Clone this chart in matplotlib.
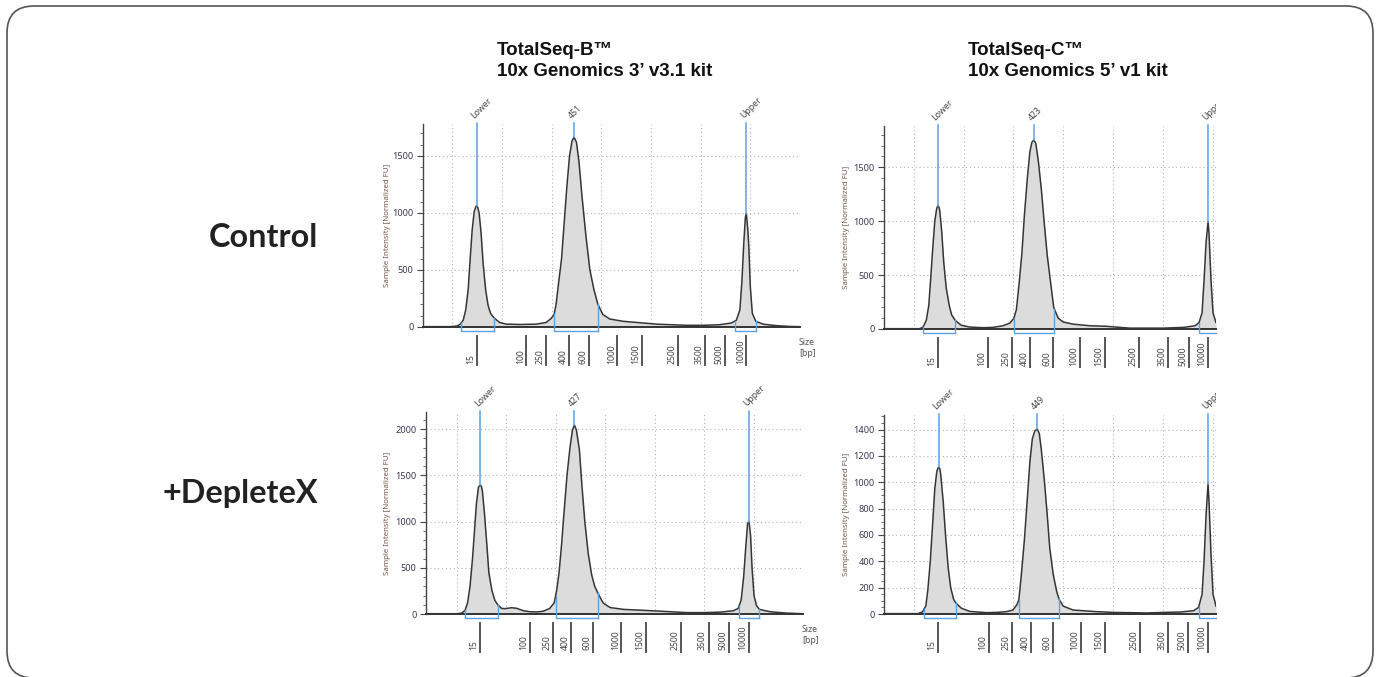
import numpy as np
import matplotlib
matplotlib.use("Agg")
import matplotlib.pyplot as plt
from matplotlib.patches import FancyBboxPatch
from matplotlib.transforms import (Bbox, TransformedBbox, IdentityTransform,
                                   blended_transform_factory, ScaledTranslation)
from matplotlib.ticker import MultipleLocator

# ---------------- data ----------------
ladder_bp = [15, 100, 250, 400, 600, 1000, 1500, 2500, 3500, 5000, 10000]

col_titles = ["TotalSeq-B\u2122\n10x Genomics 3\u2019 v3.1 kit",
              "TotalSeq-C\u2122\n10x Genomics 5\u2019 v1 kit"]
row_labels = ["Control", "+DepleteX"]

# --- Control, TotalSeq-B ---
tl_ladder_pos = [1.49, 2.49, 2.89, 3.35, 3.75, 4.32, 4.81, 5.54, 6.08, 6.48, 6.92]
tl_pos = [0.41, 0.95, 1.09, 1.16, 1.22, 1.27, 1.32, 1.36, 1.40, 1.44,
          1.47, 1.49, 1.51, 1.54, 1.58, 1.62, 1.67, 1.72, 1.77, 1.84, 1.95, 2.09,
          2.36, 2.69, 2.89, 2.99, 3.05, 3.09, 3.13, 3.20, 3.25, 3.31,
          3.36, 3.41, 3.45, 3.50, 3.55, 3.61, 3.69, 3.77, 3.85, 3.93,
          4.03, 4.17, 4.44, 4.71, 5.11, 5.71, 6.05, 6.38, 6.62, 6.72,
          6.79, 6.83, 6.87, 6.90, 6.92, 6.95, 6.97, 7.00, 7.04, 7.11,
          7.26, 7.52, 7.79, 8.00]
tl_fu = [3, 3, 8, 25, 60, 150, 330, 600, 850, 1010,
         1050, 1065, 1050, 1000, 820, 560, 330, 190, 120, 80, 40, 25,
         22, 25, 40, 75, 110, 200, 350, 600, 900, 1250,
         1500, 1630, 1665, 1620, 1450, 1150, 800, 500, 330, 200,
         110, 70, 50, 40, 25, 15, 15, 20, 35, 60,
         150, 400, 750, 960, 995, 850, 700, 350, 120, 50,
         25, 12, 5, 3]
tl_marker_labels = ["Lower", "451", "Upper"]
tl_marker_pos = [1.49, 3.45, 6.92]
tl_regions = [(1.17, 1.84), (3.05, 3.93), (6.70, 7.11)]

# --- Control, TotalSeq-C ---
tr_ladder_pos = [1.48, 2.49, 2.98, 3.33, 3.80, 4.34, 4.83, 5.53, 6.10, 6.52, 6.91]
tr_pos = [0.40, 1.11, 1.18, 1.25, 1.30, 1.34, 1.38, 1.42, 1.46, 1.48,
          1.50, 1.52, 1.56, 1.60, 1.65, 1.71, 1.76, 1.83, 1.95, 2.12, 2.39,
          2.59, 2.79, 2.93, 3.01, 3.06, 3.11, 3.17, 3.22, 3.28, 3.33,
          3.37, 3.41, 3.45, 3.50, 3.56, 3.62, 3.68, 3.75, 3.81, 3.90,
          4.00, 4.20, 4.54, 4.87, 5.14, 5.34, 6.01, 6.42, 6.65, 6.73,
          6.79, 6.83, 6.87, 6.91, 6.93, 6.97, 7.01, 7.07]
tr_fu = [3, 3, 15, 80, 220, 480, 750, 1000, 1120, 1142,
         1135, 1100, 900, 620, 380, 220, 130, 80, 35, 18, 12,
         15, 30, 55, 100, 180, 400, 700, 1050, 1400, 1640,
         1730, 1753, 1720, 1560, 1300, 980, 680, 420, 200, 100,
         65, 45, 30, 25, 15, 8, 8, 15, 30, 60,
         150, 450, 800, 995, 880, 450, 150, 60]
tr_marker_labels = ["Lower", "423", "Upper"]
tr_marker_pos = [1.48, 3.41, 6.91]
tr_regions = [(1.18, 1.83), (3.01, 3.82), (6.72, 7.30)]

# --- +DepleteX, TotalSeq-B ---
bl_ladder_pos = [1.47, 2.48, 2.95, 3.32, 3.75, 4.33, 4.82, 5.54, 6.09, 6.50, 6.91]
bl_pos = [0.38, 1.00, 1.10, 1.17, 1.22, 1.27, 1.32, 1.36, 1.40, 1.44,
          1.46, 1.48, 1.50, 1.52, 1.56, 1.61, 1.65, 1.71, 1.77, 1.83, 1.91, 1.98,
          2.11, 2.21, 2.35, 2.48, 2.62, 2.75, 2.88, 2.97, 3.02, 3.07,
          3.12, 3.17, 3.23, 3.29, 3.34, 3.38, 3.42, 3.48, 3.53, 3.59,
          3.66, 3.73, 3.79, 3.86, 3.96, 4.10, 4.37, 4.77, 5.31, 5.64,
          5.98, 6.32, 6.59, 6.69, 6.75, 6.80, 6.84, 6.88, 6.91, 6.94,
          6.97, 7.01, 7.06, 7.12, 7.33, 7.66, 8.00]
bl_fu = [3, 3, 10, 40, 120, 300, 600, 900, 1200, 1370,
         1390, 1395, 1380, 1330, 1100, 750, 450, 260, 150, 100, 60, 58,
         68, 62, 35, 25, 22, 30, 60, 120, 250, 450,
         750, 1100, 1500, 1800, 1990, 2045, 1990, 1780, 1400, 1000,
         650, 420, 300, 220, 120, 70, 50, 40, 25, 15,
         15, 20, 35, 60, 150, 400, 700, 980, 1000, 850,
         500, 200, 90, 50, 25, 10, 3]
bl_marker_labels = ["Lower", "427", "Upper"]
bl_marker_pos = [1.48, 3.38, 6.91]
bl_regions = [(1.17, 1.83), (3.00, 3.85), (6.71, 7.12)]

# --- +DepleteX, TotalSeq-C ---
br_ladder_pos = [1.48, 2.50, 2.97, 3.35, 3.79, 4.35, 4.83, 5.54, 6.10, 6.50, 6.91]
br_pos = [0.40, 1.08, 1.17, 1.24, 1.28, 1.33, 1.38, 1.42, 1.46, 1.48, 1.50,
          1.52, 1.54, 1.59, 1.64, 1.69, 1.74, 1.80, 1.84, 1.95, 2.12, 2.46,
          2.66, 2.86, 2.99, 3.07, 3.11, 3.16, 3.22, 3.28, 3.33, 3.38,
          3.43, 3.48, 3.52, 3.56, 3.62, 3.68, 3.73, 3.80, 3.87, 3.92,
          4.00, 4.20, 4.67, 5.01, 5.68, 6.01, 6.35, 6.62, 6.72, 6.79,
          6.83, 6.87, 6.91, 6.93, 6.97, 7.01, 7.07]
br_fu = [3, 3, 15, 60, 180, 400, 700, 950, 1080, 1105, 1115,
         1105, 1060, 850, 580, 350, 200, 110, 85, 45, 20, 10,
         12, 18, 30, 70, 110, 300, 560, 880, 1150, 1330,
         1390, 1405, 1370, 1250, 1020, 750, 500, 300, 170, 110,
         60, 30, 18, 12, 8, 12, 15, 25, 50, 150,
         400, 750, 990, 850, 450, 150, 60]
br_marker_labels = ["Lower", "449", "Upper"]
br_marker_pos = [1.50, 3.48, 6.91]
br_regions = [(1.20, 1.84), (3.11, 3.91), (6.72, 7.30)]

# ---------------- styling / layout ----------------
W, H = 1381, 677
DPI = 100
SMALL = ["Noto Sans", "DejaVu Sans"]
BLUE = "#5aa2e4"
TRACE = "#353535"
FILL = "#dcdcdc"
GRID = "#b4b4b4"

fig = plt.figure(figsize=(W / DPI, H / DPI), dpi=DPI)
fig.patch.set_facecolor("white")


def add_axes_px(left, right, top, bottom):
    return fig.add_axes([left / W, 1 - bottom / H, (right - left) / W, (bottom - top) / H])


def px_shift(dx, dy):
    return ScaledTranslation(dx / DPI, dy / DPI, fig.dpi_scale_trans)


def panel(box, xlim, ymax, ymaj, ymin_step, pos, fu, ladder_pos, mlabels, mpos,
          regions, show_size, ylab_px, clip_right=None):
    left, right, top, bottom = box
    ax = add_axes_px(left, right, top, bottom)
    h_px = bottom - top
    ax.set_axisbelow(True)

    # grid
    ax.set_xticks(range(1, 9))
    ax.tick_params(axis="x", length=0, labelbottom=False)
    ax.yaxis.set_major_locator(MultipleLocator(ymaj))
    ax.yaxis.set_minor_locator(MultipleLocator(ymin_step))
    ax.grid(True, which="major", color=GRID, linestyle=(0, (1, 2.5)), linewidth=0.8)
    ax.set_xlim(*xlim)
    ax.set_ylim(0, ymax)

    for s in ["top", "right"]:
        ax.spines[s].set_visible(False)
    ax.spines["left"].set_color("#444444")
    ax.spines["left"].set_linewidth(1.0)
    ax.spines["bottom"].set_color("#333333")
    ax.spines["bottom"].set_linewidth(1.4)
    ax.tick_params(axis="y", which="major", length=4.5, width=0.8, color="#444444",
                   pad=2.5, labelsize=6.6, labelcolor="#3b3750")
    ax.tick_params(axis="y", which="minor", length=2, width=0.6, color="#555555")
    for lab in ax.get_yticklabels():
        lab.set_fontweight("bold")
        lab.set_family(SMALL)
    ax.set_ylabel("Sample Intensity [Normalized FU]", fontsize=5.7, color="#70584a",
                  family=SMALL)
    ax.yaxis.set_label_coords(-ylab_px / (right - left), 0.5)

    # trace
    ax.fill_between(pos, fu, 0, color=FILL, linewidth=0, zorder=2)
    ax.plot(pos, fu, color=TRACE, linewidth=1.1, zorder=3)

    unit = ymax / h_px  # data units per pixel (y)
    xr = xlim[1]

    # region brackets
    yb = -4 * unit
    for a, b in regions:
        b2 = min(b, xr)
        ya = np.interp(a, pos, fu)
        ax.plot([a, a, b2], [ya, yb, yb], color=BLUE, lw=1.0, clip_on=False, zorder=4)
        if b <= xr:
            yv = np.interp(b, pos, fu)
            ax.plot([b, b], [yb, yv], color=BLUE, lw=1.0, clip_on=False, zorder=4)

    # peak markers
    for lab, p in zip(mlabels, mpos):
        yp = np.interp(p, pos, fu)
        ax.plot([p, p], [yp, ymax + 1 * unit], color=BLUE, lw=1.1, clip_on=False, zorder=4)
        t = ax.text(p, ymax, lab, fontsize=6.3, color="#444444", family=SMALL,
                    rotation=45, rotation_mode="anchor", ha="left", va="bottom",
                    transform=ax.transData + px_shift(-1, 4))
        if clip_right is not None:
            t.set_clip_box(TransformedBbox(Bbox([[0, 0], [clip_right / W, 1]]),
                                           fig.transFigure))
            t.set_clip_on(True)
        else:
            t.set_clip_on(False)

    # ladder ticks & labels
    bt = blended_transform_factory(ax.transData, ax.transAxes)
    for p, bp in zip(ladder_pos, ladder_bp):
        ax.plot([p, p], [-9 / h_px, -38 / h_px], color="#555555", lw=1.4,
                transform=bt, clip_on=False)
        ax.text(p, -36.5 / h_px, str(bp), rotation=90, ha="right", va="bottom",
                fontsize=6.2, color="#444444", family=SMALL,
                transform=bt + px_shift(-1.5, 0))

    if show_size:
        ax.text(1.0, -21 / h_px, "Size\n[bp]", transform=ax.transAxes + px_shift(-1, 0),
                ha="left", va="center", fontsize=6.3, color="#555555", family=SMALL,
                linespacing=1.25)
    return ax


panel((423, 800, 124, 327), (0.41, 8.0), 1780, 500, 100, tl_pos, tl_fu,
      tl_ladder_pos, tl_marker_labels, tl_marker_pos, tl_regions, True, 32)
panel((884, 1216, 126, 329), (0.40, 7.07), 1882, 500, 100, tr_pos, tr_fu,
      tr_ladder_pos, tr_marker_labels, tr_marker_pos, tr_regions, False, 34,
      clip_right=1216)
panel((426, 803, 412, 614), (0.38, 8.0), 2186, 500, 100, bl_pos, bl_fu,
      bl_ladder_pos, bl_marker_labels, bl_marker_pos, bl_regions, True, 35)
panel((884, 1216, 415, 614), (0.40, 7.07), 1511, 200, 50, br_pos, br_fu,
      br_ladder_pos, br_marker_labels, br_marker_pos, br_regions, False, 34,
      clip_right=1216)

# column titles
for txt, x in zip(col_titles, [497, 968]):
    fig.text(x / W, 1 - 42 / H, txt, ha="left", va="top", fontsize=13.5,
             family=["Liberation Sans", "DejaVu Sans"], fontweight="bold",
             color="#111111", linespacing=1.3)

# row labels
for txt, y in zip(row_labels, [237, 493]):
    fig.text(318 / W, 1 - y / H, txt, ha="right", va="center", fontsize=23.3,
             family=["Lato", "DejaVu Sans"], fontweight="bold", color="#222222")

# rounded frame
frame = FancyBboxPatch((7, -1), 1366, 672, boxstyle="round,pad=0,rounding_size=27",
                       transform=IdentityTransform(), fill=False, ec="#555555", lw=1.2)
fig.add_artist(frame)

fig.savefig("out.png", dpi=DPI)
